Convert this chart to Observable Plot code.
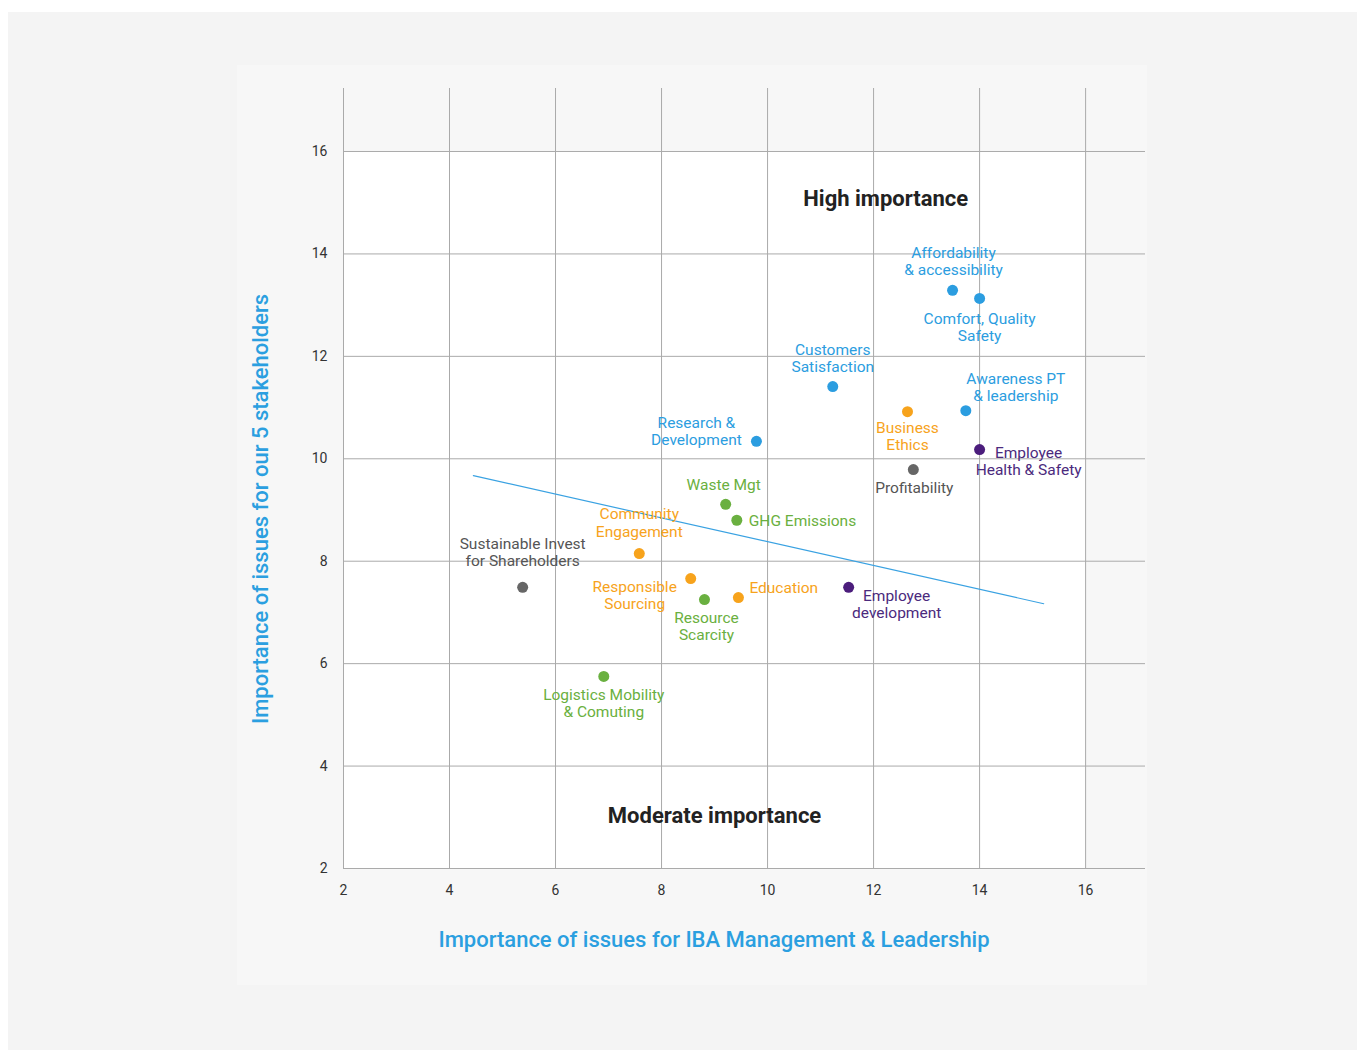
<!DOCTYPE html>
<html>
<head>
<meta charset="utf-8">
<script src="https://cdn.jsdelivr.net/npm/d3@7"></script>
<script src="https://cdn.jsdelivr.net/npm/@observablehq/plot@0.6"></script>
<style>
  html, body { margin: 0; padding: 0; width: 1357px; height: 1052px; overflow: hidden; background: #ffffff; font-family: Roboto, "Noto Sans", sans-serif; }
  #outer { position: absolute; left: 8px; top: 12px; width: 1349px; height: 1038px; background: #f4f4f4; }
  #inner { position: absolute; left: 237px; top: 65px; width: 910px; height: 920px; background: #f7f7f7; }
  #chart { position: absolute; left: 0; top: 0; }
  .axt { position: absolute; color: #2b9fe0; font-weight: 500; white-space: nowrap; }
</style>
</head>
<body>
<div id="outer"></div>
<div id="inner"></div>
<div id="chart"></div>
<div class="axt" id="xt" style="left:714px; top:939px; transform:translate(-50%,-50%); font-size:22px;">Importance of issues for IBA Management &amp; Leadership</div>
<div class="axt" id="yt" style="left:260px; top:509px; transform:translate(-50%,-50%) rotate(-90deg); font-size:22px;">Importance of issues for our 5 stakeholders</div>
<script>
// ---- data ----
const issues = [
  "Affordability\n& accessibility",
  "Comfort, Quality\nSafety",
  "Customers\nSatisfaction",
  "Awareness PT\n& leadership",
  "Business\nEthics",
  "Employee\nHealth & Safety",
  "Profitability",
  "Research &\nDevelopment",
  "Waste Mgt",
  "GHG Emissions",
  "Community\nEngagement",
  "Sustainable Invest\nfor Shareholders",
  "Responsible\nSourcing",
  "Resource\nScarcity",
  "Education",
  "Employee\ndevelopment",
  "Logistics Mobility\n& Comuting"
];
const management = [13.49, 14.0, 11.23, 13.74, 12.64, 14.0, 12.75, 9.79, 9.21, 9.42, 7.58, 5.38, 8.55, 8.81, 9.45, 11.53, 6.91];
const stakeholders = [13.29, 13.13, 11.41, 10.94, 10.92, 10.18, 9.79, 10.34, 9.11, 8.80, 8.15, 7.49, 7.66, 7.25, 7.29, 7.49, 5.75];
const groups = ["customer", "customer", "customer", "customer", "governance", "people", "economic", "customer", "environment", "environment", "governance", "economic", "governance", "environment", "governance", "people", "environment"];
const trendX = [4.45, 15.21];
const trendY = [9.67, 7.17];
const xTicks = [2, 4, 6, 8, 10, 12, 14, 16];
const yTicks = [2, 4, 6, 8, 10, 12, 14, 16];
const zoneLabels = ["High importance", "Moderate importance"];
const zoneX = [12.23, 9.0];
const zoneY = [15.08, 3.03];

// ---- styling / layout (not data) ----
const groupColor = {customer: "#2b9de0", governance: "#f7a31c", people: "#4b1d7c", economic: "#666666", environment: "#6ab040"};
const labelColor = {customer: "#2b9de0", governance: "#f7a31c", people: "#4b2a7d", economic: "#555555", environment: "#6ab040"};
// per-label offsets in pixels: [dx, dy, anchor]
const labelLayout = [
  [1, -29, "middle"], [0, 29, "middle"], [0, -29, "middle"], [50, -24, "middle"],
  [0, 24, "middle"], [49, 11, "middle"], [1, 18, "middle"], [-60, -10, "middle"],
  [-2, -20, "middle"], [12, 0, "start"], [0, -31, "middle"], [0, -35, "middle"],
  [-56, 16, "middle"], [2, 26, "middle"], [11, -10, "start"], [48, 17, "middle"],
  [0, 27, "middle"]
];

const points = issues.map((name, i) => ({name, x: management[i], y: stakeholders[i], g: groups[i]}));
const trend = trendX.map((x, i) => ({x, y: trendY[i]}));
const zones = zoneLabels.map((t, i) => ({t, x: zoneX[i], y: zoneY[i]}));

const W = 1357, H = 1052;
const labelMarks = points.map((p, i) => Plot.text([p], {
  x: "x", y: "y", text: "name",
  dx: labelLayout[i][0], dy: labelLayout[i][1], textAnchor: labelLayout[i][2],
  lineAnchor: "middle", lineHeight: 1.1,
  fill: labelColor[p.g], fontSize: 15.5
}));

const chart = Plot.plot({
  width: W, height: H,
  marginLeft: 343, marginRight: W - 1145, marginTop: 88, marginBottom: H - 868,
  style: {background: "transparent", fontFamily: "Roboto, 'Noto Sans', sans-serif", overflow: "visible"},
  x: {domain: [2, 17.13], ticks: xTicks, label: null},
  y: {domain: [2, 17.23], ticks: yTicks, label: null},
  marks: [
    Plot.rect([{x1: d3.min(xTicks), x2: d3.max(xTicks), y1: d3.min(yTicks), y2: d3.max(yTicks)}],
      {x1: "x1", x2: "x2", y1: "y1", y2: "y2", fill: "#ffffff"}),
    Plot.ruleX(xTicks, {stroke: "#aaaaaa", strokeWidth: 1}),
    Plot.ruleY(yTicks, {stroke: "#aaaaaa", strokeWidth: 1}),
    Plot.axisX(xTicks, {tickSize: 0, tickPadding: 17, fontSize: 14, fill: "#333", label: null, tickFormat: d => String(d)}),
    Plot.axisY(yTicks, {tickSize: 0, tickPadding: 16, fontSize: 14, fill: "#333", label: null, tickFormat: d => String(d)}),
    Plot.line(trend, {x: "x", y: "y", stroke: "#3aa2e2", strokeWidth: 1.2}),
    Plot.dot(points, {x: "x", y: "y", r: 5.5, fill: d => groupColor[d.g], stroke: "none"}),
    ...labelMarks,
    Plot.text(zones, {x: "x", y: "y", text: "t", fontSize: 22, fontWeight: "bold", fill: "#222"})
  ]
});
document.getElementById("chart").appendChild(chart);
</script>
</body>
</html>
